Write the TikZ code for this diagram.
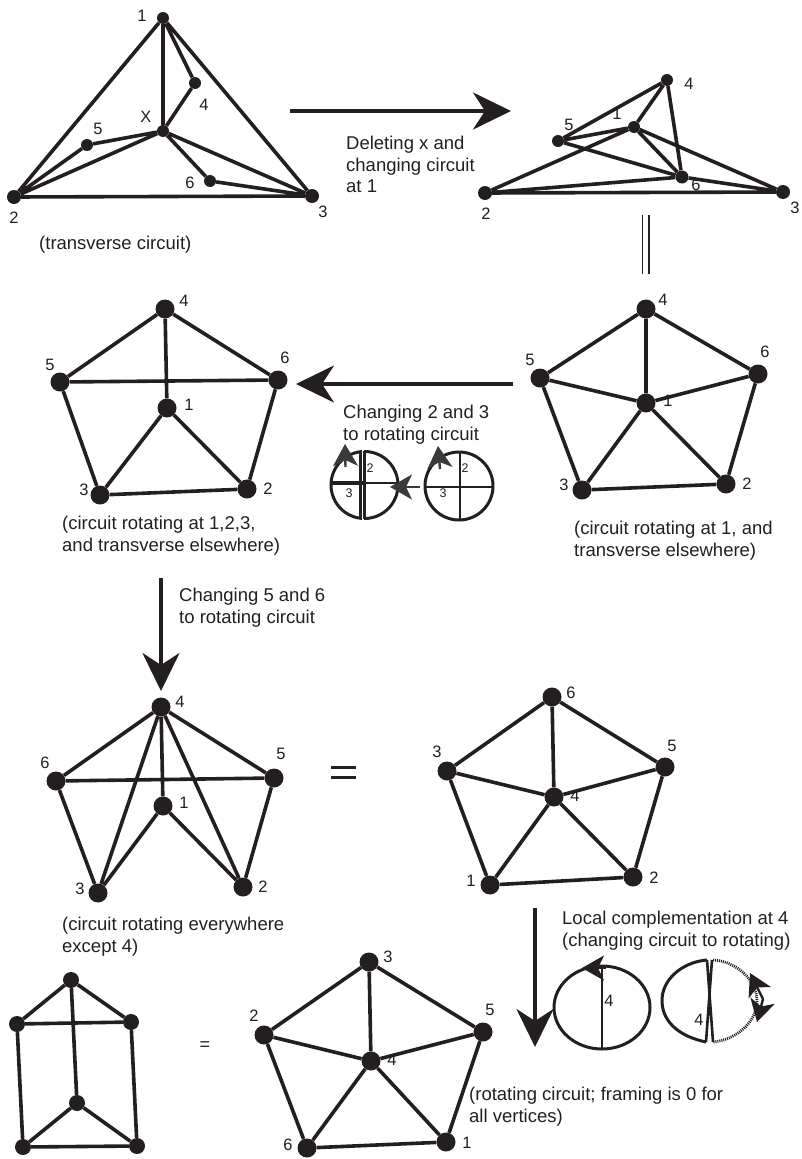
\documentclass[tikz,border=0pt]{standalone}
\usepackage{fontspec}
\setmainfont{Liberation Sans}
\usetikzlibrary{arrows.meta,shapes.geometric}
\definecolor{ink}{HTML}{231F20}
\definecolor{tipgray}{HTML}{3A3A3C}
\tikzset{
  v/.style={circle,fill=ink,inner sep=0pt,minimum width=#1},
  v/.default=14,
  e/.style={draw=ink,line width=3.6pt},
  lab/.style={font=\fontsize{16.5}{16.5}\selectfont,text=ink,inner sep=0pt},
  smalllab/.style={font=\fontsize{12.5}{12.5}\selectfont,text=ink,inner sep=0pt},
  txt/.style={font=\fontsize{18.5}{21.5}\selectfont,text=ink,align=left,inner sep=0pt,anchor=north west},
  bigarrow/.style={draw=ink,line width=4pt,-{Stealth[length=38pt,width=37pt,inset=12pt]}},
  tinyarrow/.style={-{Stealth[length=22pt,width=25pt,inset=6pt]}},
  thinring/.style={draw=ink,line width=3pt},
}
\begin{document}
\begin{tikzpicture}[x=1pt,y=-1pt]
\useasboundingbox (0,0) rectangle (801,1159);
% G1
\foreach \n/\x/\y/\s in {a1/163/18/12,a2/14/197/14,a3/312/196/14,a4/195/83/12,a5/87/145/12,a6/210/181/12,ax/163/131/12}
  \node[v=\s] (\n) at (\x,\y) {};
\draw[e] (a1)--(a2) (a1)--(a3) (a2)--(a3) (a1)--(ax) (a1)--(a4) (a4)--(ax) (ax)--(a5) (a5)--(a2) (ax)--(a2) (ax)--(a3) (ax)--(a6) (a6)--(a3);
\node[lab] (la1) at (142,16) {1};
\node[lab] (la4) at (204,105) {4};
\node[lab] (lax) at (146,117) {X};
\node[lab] (la5) at (98,129) {5};
\node[lab] (la6) at (190,183) {6};
\node[lab] (la2) at (14,218) {2};
\node[lab] (la3) at (323,212) {3};
\node[txt] (t1) at (39,236) {(transverse circuit)};
% G2
\foreach \n/\x/\y/\s in {b4/667/80/12,b5/558/141/12,b1/634/127/12,b6/682/177/13,b2/485/193/14,b3/783/192/14}
  \node[v=\s] (\n) at (\x,\y) {};
\draw[e] (b4)--(b5) (b4)--(b1) (b4)--(b6) (b5)--(b1) (b5)--(b6) (b1)--(b6) (b1)--(b3) (b1)--(b2) (b2)--(b6) (b2)--(b3) (b6)--(b3);
\node[lab] (lb4) at (689,84) {4};
\node[lab] (lb1) at (617,114) {1};
\node[lab] (lb5) at (569,125) {5};
\node[lab] (lb6) at (696,185) {6};
\node[lab] (lb2) at (486,214) {2};
\node[lab] (lb3) at (795,208) {3};
% arrow top
\coordinate (p1) at (290,111); \coordinate (p2) at (511,111);
\draw[bigarrow] (p1)--(p2);
\node[txt] (t2) at (346,136) {Deleting x and\\changing circuit\\at 1};
\coordinate (d1) at (642.5,215); \coordinate (d2) at (642.5,274);
\coordinate (d3) at (649,215); \coordinate (d4) at (649,274);
\draw[draw=ink,line width=1.5pt] (d1)--(d2) (d3)--(d4);
% G3
\foreach \n/\x/\y in {c4/646/309,c5/540/378,c6/758/374,c1/646/403,c3/582/490,c2/726/484}
  \node[v=19] (\n) at (\x,\y) {};
\draw[e] (c4)--(c5) (c4)--(c6) (c4)--(c1) (c5)--(c1) (c6)--(c1) (c5)--(c3) (c6)--(c2) (c3)--(c1) (c2)--(c1) (c3)--(c2);
\node[lab] (lc4) at (663,300) {4};
\node[lab] (lc6) at (765,352) {6};
\node[lab] (lc5) at (530,360) {5};
\node[lab] (lc1) at (668,401) {1};
\node[lab] (lc3) at (564,485) {3};
\node[lab] (lc2) at (747,484) {2};
\node[txt] (t3) at (574,521) {(circuit rotating at 1, and\\transverse elsewhere)};
% G4
\foreach \n/\x/\y in {d4n/165/309,d5n/60/382,d6n/278/380,d1n/167/408,d3n/100/495,d2n/247/489}
  \node[v=19] (\n) at (\x,\y) {};
\draw[e] (d4n)--(d5n) (d4n)--(d6n) (d4n)--(d1n) (d5n)--(d6n) (d5n)--(d3n) (d6n)--(d2n) (d1n)--(d3n) (d1n)--(d2n) (d3n)--(d2n);
\node[lab] (ld4) at (184,301) {4};
\node[lab] (ld5) at (50,365) {5};
\node[lab] (ld6) at (285,358) {6};
\node[lab] (ld1) at (189,405) {1};
\node[lab] (ld3) at (84,490) {3};
\node[lab] (ld2) at (268,489) {2};
\node[txt] (t4) at (62,516) {(circuit rotating at 1,2,3,\\and transverse elsewhere)};
% left arrow
\coordinate (p3) at (513,384); \coordinate (p4) at (296,384);
\draw[bigarrow] (p3)--(p4);
\node[txt] (t5) at (343,405) {Changing 2 and 3\\to rotating circuit};
% small circles
\coordinate (q1) at (364.5,485); \coordinate (q2) at (459,486);
\node[circle,thinring,minimum width=67pt,inner sep=0pt] (r1) at (q1) {};
\node[circle,thinring,minimum width=68pt,inner sep=0pt] (r2) at (q2) {};
\coordinate (u1) at (360.5,451); \coordinate (u2) at (360.5,519);
\coordinate (u3) at (364.5,451); \coordinate (u4) at (364.5,519);
\coordinate (u5) at (331,483); \coordinate (u6) at (365,483);
\coordinate (u7) at (398,483);
\coordinate (u8) at (362.5,450); \coordinate (u9) at (362.5,520);
\draw[draw=white,line width=2pt] (u8)--(u9);
\draw[draw=ink,line width=2.6pt] (u1)--(u2) (u3)--(u4);
\draw[draw=ink,line width=4.6pt] (u5)--(u6);
\draw[draw=ink,line width=2.6pt] (u6)--(u7);
\coordinate (w1) at (460,453); \coordinate (w2) at (460,519);
\coordinate (w3) at (425,487); \coordinate (w4) at (493,487);
\draw[draw=ink,line width=2.6pt] (w1)--(w2) (w3)--(w4);
\node[smalllab] (s1) at (370,468) {2};
\node[smalllab] (s2) at (349,493) {3};
\node[smalllab] (s3) at (465,468) {2};
\node[smalllab] (s4) at (443,493) {3};
\coordinate (x1) at (345.5,467); \coordinate (x2) at (345,444);
\coordinate (x3) at (440,469); \coordinate (x4) at (438,446);
\coordinate (x5) at (420,487); \coordinate (x6) at (390,487);
\draw[draw=tipgray,line width=2.4pt,tinyarrow] (x1)--(x2);
\draw[draw=tipgray,line width=2.4pt,tinyarrow] (x3)--(x4);
\draw[draw=tipgray,line width=2.4pt,tinyarrow] (x5)--(x6);
% down arrow
\coordinate (p5) at (161,578); \coordinate (p6) at (161,691);
\draw[bigarrow] (p5)--(p6);
\node[txt] (t6) at (179,588) {Changing 5 and 6\\to rotating circuit};
% G5
\foreach \n/\x/\y in {e4/161/707,e6/56/781,e5/274/778,e1/163/806,e3/98/893,e2/243/887}
  \node[v=19] (\n) at (\x,\y) {};
\draw[e] (e4)--(e6) (e4)--(e5) (e4)--(e1) (e6)--(e5) (e6)--(e3) (e5)--(e2) (e1)--(e3) (e1)--(e2) (e4)--(e3) (e4)--(e2);
\node[lab] (le4) at (180,702) {4};
\node[lab] (le6) at (45,763) {6};
\node[lab] (le5) at (281,754) {5};
\node[lab] (le1) at (184,803) {1};
\node[lab] (le3) at (80,889) {3};
\node[lab] (le2) at (263,887) {2};
\node[txt] (t7) at (62,917) {(circuit rotating everywhere\\except 4)};
% equals
\coordinate (q3) at (331,767); \coordinate (q4) at (356,767);
\coordinate (q5) at (331,777); \coordinate (q6) at (356,777);
\draw[draw=ink,line width=3pt] (q3)--(q4) (q5)--(q6);
% G6
\foreach \n/\x/\y in {f6/552/697,f3/447/771,f5/665/767,f4/554/797,f1/490/885,f2/633/877}
  \node[v=19] (\n) at (\x,\y) {};
\draw[e] (f6)--(f3) (f6)--(f5) (f6)--(f4) (f3)--(f4) (f5)--(f4) (f3)--(f1) (f5)--(f2) (f1)--(f4) (f2)--(f4) (f1)--(f2);
\node[lab] (lf6) at (571,693) {6};
\node[lab] (lf3) at (437,752) {3};
\node[lab] (lf5) at (672,746) {5};
\node[lab] (lf4) at (575,796) {4};
\node[lab] (lf1) at (471,881) {1};
\node[lab] (lf2) at (654,878) {2};
% down arrow 2
\coordinate (p7) at (535,908); \coordinate (p8) at (535,1047);
\draw[bigarrow] (p7)--(p8);
\node[txt] (t8) at (562,911) {Local complementation at 4\\(changing circuit to rotating)};
% local circles
\coordinate (g1) at (602,1007.5);
\node[ellipse,thinring,minimum width=96pt,minimum height=83pt,inner sep=0pt] (r3) at (g1) {};
\coordinate (g2) at (602,966); \coordinate (g3) at (602,1049);
\draw[draw=ink,line width=2.6pt] (g2)--(g3);
\node[lab] (lr3) at (609,1001) {4};
\coordinate (h1) at (707,960); \coordinate (h2) at (706,1042);
\coordinate (h3) at (713,960); \coordinate (h4) at (713,1042);
\coordinate (h5) at (712,960);
\draw[draw=ink,line width=3pt] (h1) .. controls (682,962) and (661,980) .. (662,1002) .. controls (663,1024) and (682,1037) .. (h2);
\draw[draw=ink,line width=2.6pt] (h1) -- (h4) (h5) -- (h2);
\draw[draw=ink,line width=2.8pt,dash pattern=on 1pt off 1pt] (h3) .. controls (736,961) and (757,980) .. (757,1001) .. controls (757,1022) and (736,1040) .. (h4);
\node[lab] (lr4) at (699,1020) {4};
\coordinate (k1) at (606,968); \coordinate (k2) at (582,968);
\draw[draw=ink,line width=2.4pt,tinyarrow] (k1)--(k2);
\coordinate (k3) at (763,999); \coordinate (k4) at (750,973);
\coordinate (k6) at (757,1022);
\draw[draw=ink,line width=2.4pt,tinyarrow] (k3) -- (k4);
\draw[draw=ink,line width=2.4pt,tinyarrow] (k3) -- (k6);
% G7
\foreach \n/\x/\y in {h3n/369/962,h2n/264/1035,h5n/483/1032,h4n/371/1061,h6n/307/1148,h1n/446/1142}
  \node[v=19] (\n) at (\x,\y) {};
\draw[e] (h3n)--(h2n) (h3n)--(h5n) (h3n)--(h4n) (h2n)--(h4n) (h5n)--(h4n) (h2n)--(h6n) (h5n)--(h1n) (h6n)--(h4n) (h1n)--(h4n) (h6n)--(h1n);
\node[lab] (lh3) at (388,957) {3};
\node[lab] (lh2) at (254,1016) {2};
\node[lab] (lh5) at (490,1010) {5};
\node[lab] (lh4) at (392,1060) {4};
\node[lab] (lh6) at (288,1145) {6};
\node[lab] (lh1) at (467,1143) {1};
\node[txt] (t9) at (469,1087) {(rotating circuit; framing is 0 for\\all vertices)};
\node[font=\fontsize{18}{18}\selectfont,text=ink,inner sep=0pt] (eq2) at (205,1046) {=};
% G8
\foreach \n/\x/\y in {i1/71/980,i2/17/1024,i3/131/1022,i4/77/1103,i5/23/1147,i6/137/1146}
  \node[v=16] (\n) at (\x,\y) {};
\draw[e] (i1)--(i2) (i1)--(i3) (i1)--(i4) (i2)--(i3) (i2)--(i5) (i3)--(i6) (i4)--(i5) (i4)--(i6) (i5)--(i6);
\end{tikzpicture}
\end{document}
